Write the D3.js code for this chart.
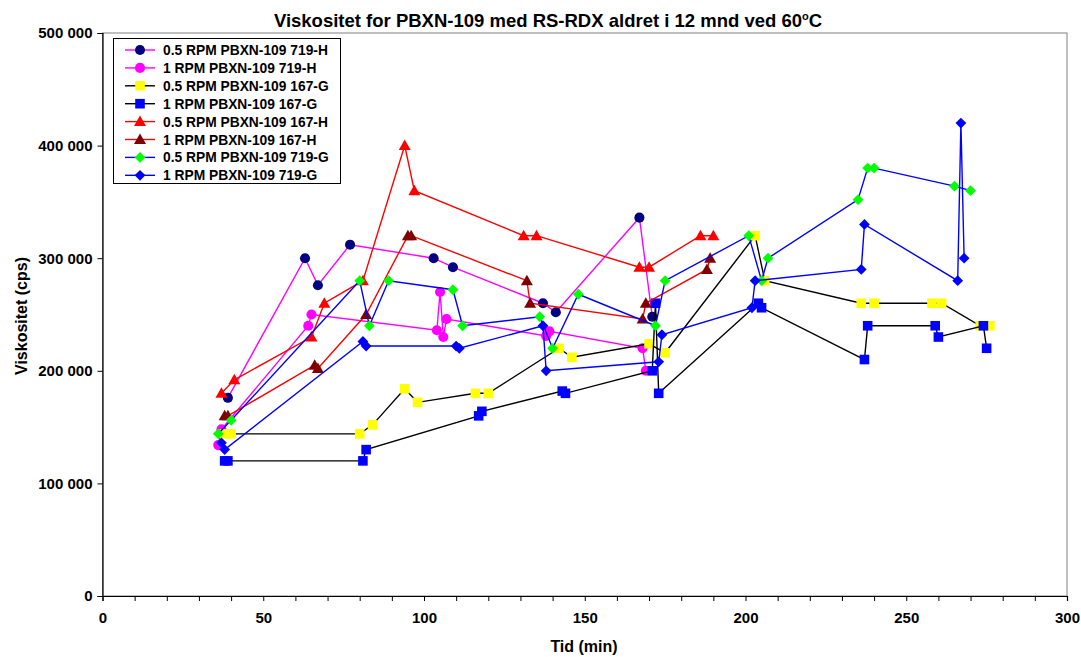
<!DOCTYPE html>
<html><head><meta charset="utf-8">
<script src="https://cdn.jsdelivr.net/npm/d3@7"></script>
<style>
body{margin:0;background:#fff}
text{font-family:"Liberation Sans",Arial,sans-serif;font-weight:bold;fill:#000}
</style>
</head><body>
<svg id="chart" width="1081" height="657"></svg>
<script>
const chartTitle = "Viskositet for PBXN-109 med RS-RDX aldret i 12 mnd ved 60";
const xTitle = "Tid (min)";
const yTitle = "Viskositet (cps)";
const xTicks = [0, 50, 100, 150, 200, 250, 300];
const yTicks = [0, 100000, 200000, 300000, 400000, 500000];

const seriesNames = [
  "0.5 RPM PBXN-109 719-H", "1 RPM PBXN-109 719-H",
  "0.5 RPM PBXN-109 167-G", "1 RPM PBXN-109 167-G",
  "0.5 RPM PBXN-109 167-H", "1 RPM PBXN-109 167-H",
  "0.5 RPM PBXN-109 719-G", "1 RPM PBXN-109 719-G"
];

const t_719H_05 = [39, 63, 67, 77, 103, 109, 137, 141, 167, 171];
const v_719H_05 = [176000, 300000, 276000, 312000, 300000, 292000, 260000, 252000, 336000, 248000];

const t_719H_1 = [36, 37, 64, 65, 104, 105, 106, 107, 138, 139, 168, 169];
const v_719H_1 = [134000, 148000, 240000, 250000, 236000, 270000, 230000, 246000, 231000, 235000, 220000, 200000];

const t_167G_05 = [38, 40, 80, 84, 94, 98, 116, 120, 142, 146, 170, 175, 203, 206, 236, 240, 258, 261, 273, 276];
const v_167G_05 = [144000, 144000, 144000, 152000, 184000, 172000, 180000, 180000, 220000, 212000, 224000, 216000, 320000, 280000, 260000, 260000, 260000, 260000, 240000, 240000];

const t_167G_1 = [38, 39, 81, 82, 117, 118, 143, 144, 171, 172, 173, 204, 205, 237, 238, 259, 260, 274, 275];
const v_167G_1 = [120000, 120000, 120000, 130000, 160000, 164000, 182000, 180000, 200000, 260000, 180000, 260000, 256000, 210000, 240000, 240000, 230000, 240000, 220000];

const t_167H_05 = [37, 41, 65, 69, 81, 94, 97, 131, 135, 167, 170, 186, 190];
const v_167H_05 = [180000, 192000, 230000, 260000, 280000, 400000, 360000, 320000, 320000, 292000, 292000, 320000, 320000];

const t_167H_1 = [38, 39, 66, 67, 82, 95, 96, 132, 133, 168, 169, 188, 189];
const v_167H_1 = [160000, 160000, 205000, 202000, 250000, 320000, 320000, 280000, 260000, 246000, 260000, 290000, 300000];

const t_719G_05 = [36, 40, 80, 83, 89, 109, 112, 136, 140, 148, 172, 175, 201, 205, 207, 235, 238, 240, 265, 270];
const v_719G_05 = [144000, 156000, 280000, 240000, 280000, 272000, 240000, 248000, 220000, 268000, 240000, 280000, 320000, 280000, 300000, 352000, 380000, 380000, 364000, 360000];

const t_719G_1 = [37, 38, 81, 82, 110, 111, 137, 138, 173, 174, 202, 203, 236, 237, 266, 267, 268];
const v_719G_1 = [136000, 130000, 226000, 222000, 222000, 220000, 240000, 200000, 208000, 232000, 256000, 280000, 290000, 330000, 280000, 420000, 300000];

const seriesT = [t_719H_05, t_719H_1, t_167G_05, t_167G_1, t_167H_05, t_167H_1, t_719G_05, t_719G_1];
const seriesV = [v_719H_05, v_719H_1, v_167G_05, v_167G_1, v_167H_05, v_167H_1, v_719G_05, v_719G_1];

const lineColors = ["#FF00FF", "#FF00FF", "#000000", "#000000", "#FF0000", "#FF0000", "#0000FF", "#0000FF"];
const markerColors = ["#000080", "#FF00FF", "#FFFF00", "#0000FF", "#FF0000", "#800000", "#00FF00", "#0000FF"];
const markerShapes = ["circle", "circle", "square", "square", "triangle", "triangle", "diamond", "diamond"];

const svg = d3.select("#chart");
const L = 102.5, R = 1067, T = 33, B = 596;
const x = d3.scaleLinear().domain([0, 300]).range([L, R]);
const y = d3.scaleLinear().domain([0, 500000]).range([B, T]);

svg.append("rect").attr("width", 1081).attr("height", 657).attr("fill", "#fff");
svg.append("rect").attr("x", L).attr("y", T).attr("width", R - L).attr("height", B - T)
  .attr("fill", "none").attr("stroke", "#808080").attr("stroke-width", 1);

const fmt = d => d3.format(",")(d).replace(/,/g, " ");

const yAxis = svg.append("g").attr("transform", `translate(${L},0)`)
  .call(d3.axisLeft(y).tickValues(yTicks).tickFormat(fmt).tickSize(5).tickPadding(5));
const xAxis = svg.append("g").attr("transform", `translate(0,${B})`)
  .call(d3.axisBottom(x).tickValues(d3.range(0, 301, 10)).tickFormat(d => xTicks.includes(d) ? d : "").tickSize(5).tickPadding(11));
[yAxis, xAxis].forEach(a => {
  a.selectAll("text").style("font-size", "15px").style("font-family", "'Liberation Sans',Arial,sans-serif").style("font-weight", "bold").attr("fill", "#000");
  a.select(".domain").attr("stroke", "#000").attr("stroke-width", 1.2);
  a.selectAll(".tick line").attr("stroke", "#000");
});

function markerPath(shape) {
  if (shape === "circle") return d3.symbol(d3.symbolCircle, 80)();
  if (shape === "square") return "M-4.8,-4.8H4.8V4.8H-4.8Z";
  if (shape === "triangle") return "M0,-6L6,4.5L-6,4.5Z";
  return "M0,-5.4L5.4,0L0,5.4L-5.4,0Z";
}

const line = d3.line().x(d => x(d[0])).y(d => y(d[1]));

seriesNames.forEach((name, i) => {
  const pts = seriesT[i].map((t, j) => [t, seriesV[i][j]]);
  const g = svg.append("g");
  g.append("path").datum(pts).attr("d", line).attr("fill", "none")
    .attr("stroke", lineColors[i]).attr("stroke-width", 1.4);
  g.selectAll("path.m").data(pts).enter().append("path").attr("class", "m")
    .attr("transform", d => `translate(${x(d[0])},${y(d[1])})`)
    .attr("d", markerPath(markerShapes[i])).attr("fill", markerColors[i]);
});

const lg = svg.append("g");
lg.append("rect").attr("x", 113.5).attr("y", 38.5).attr("width", 227).attr("height", 145)
  .attr("fill", "#fff").attr("stroke", "#000").attr("stroke-width", 1);
seriesNames.forEach((name, i) => {
  const cy = 50 + i * 17.9;
  lg.append("line").attr("x1", 125).attr("x2", 155).attr("y1", cy).attr("y2", cy)
    .attr("stroke", lineColors[i]).attr("stroke-width", 1.4);
  lg.append("path").attr("transform", `translate(140,${cy})`).attr("d", markerPath(markerShapes[i]))
    .attr("fill", markerColors[i]);
  lg.append("text").attr("x", 163).attr("y", cy + 5).style("font-size", "13.8px").text(name);
});

const tt = svg.append("text").attr("x", 548).attr("y", 27).attr("text-anchor", "middle").style("font-size", "18.5px");
tt.append("tspan").text(chartTitle);
tt.append("tspan").attr("dy", -7).style("font-size", "11px").text("o");
tt.append("tspan").attr("dy", 7).text("C");

svg.append("text").attr("x", 584).attr("y", 652).attr("text-anchor", "middle").style("font-size", "16px").text(xTitle);
svg.append("text").attr("transform", "translate(27,316) rotate(-90)").attr("text-anchor", "middle").style("font-size", "16px").text(yTitle);
</script>
</body></html>
